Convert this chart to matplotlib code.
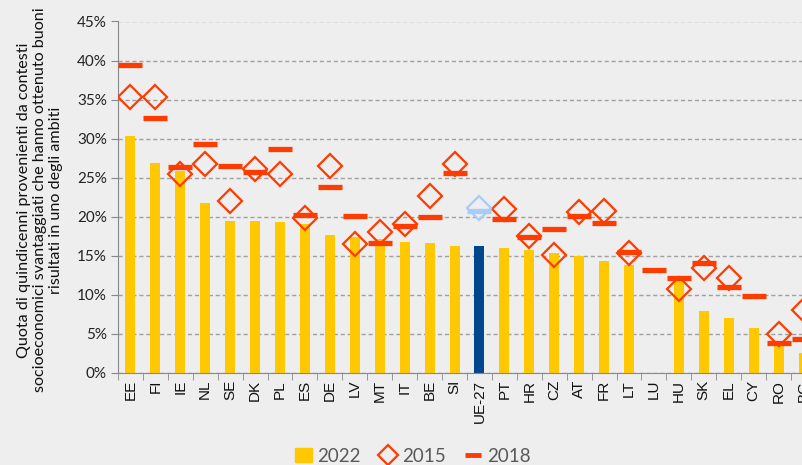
import numpy as np
import matplotlib.pyplot as plt
from matplotlib.patches import Patch
from matplotlib.lines import Line2D

countries = ['EE', 'FI', 'IE', 'NL', 'SE', 'DK', 'PL', 'ES', 'DE', 'LV', 'MT', 'IT', 'BE', 'SI',
             'UE-27', 'PT', 'HR', 'CZ', 'AT', 'FR', 'LT', 'LU', 'HU', 'SK', 'EL', 'CY', 'RO', 'BG']
v2022 = [30.3, 26.9, 25.8, 21.7, 19.5, 19.4, 19.3, 19.1, 17.7, 17.4, 17.1, 16.8, 16.6, 16.3,
         16.3, 16.0, 15.8, 15.3, 15.0, 14.4, 13.8, np.nan, 12.0, 7.9, 7.1, 5.7, 4.0, 2.5]
v2015 = [35.3, 35.3, 25.5, 26.8, 22.0, 26.1, 25.5, 19.8, 26.5, 16.5, 18.1, 19.1, 22.7, 26.8,
         21.1, 21.0, 17.6, 15.1, 20.6, 20.8, 15.3, np.nan, 10.8, 13.4, 12.2, np.nan, 5.0, 8.1]
v2018 = [39.4, 32.6, 26.4, 29.3, 26.5, 25.7, 28.7, 20.2, 23.8, 20.1, 16.6, 18.8, 20.0, 25.6,
         20.7, 19.7, 17.4, 18.4, 20.1, 19.2, 15.5, 13.2, 12.1, 14.1, 11.0, 9.9, 3.8, 4.3]

bg = '#EEEEEE'
yellow = '#FFC800'
red = '#FF3C00'
eu_dark = '#00468C'
eu_light = '#A6CDF7'

x = np.arange(len(countries))
eu = np.array([c == 'UE-27' for c in countries])
a22 = np.array(v2022) / 100
a15 = np.array(v2015) / 100
a18 = np.array(v2018) / 100

fig = plt.figure(figsize=(8.03, 4.65), dpi=100, facecolor=bg)
ax = fig.add_axes([118/803, 1 - 373/465, 698/803, 351.5/465], facecolor=bg)

bar_colors = [eu_dark if e else yellow for e in eu]
ax.bar(x, np.nan_to_num(a22), width=0.4, color=bar_colors, zorder=2)

ax.plot(x[~eu], a15[~eu], ls='none', marker='D', ms=12.5, mfc='none', mec=red, mew=1.6, zorder=3)
ax.plot(x[eu], a15[eu], ls='none', marker='D', ms=12.5, mfc='none', mec=eu_light, mew=1.6, zorder=3)
ax.plot(x[~eu], a18[~eu], ls='none', marker='_', ms=17.5, mec=red, mew=3.8, zorder=4)
ax.plot(x[eu], a18[eu], ls='none', marker='_', ms=17.5, mec=eu_light, mew=3.8, zorder=4)

ax.set_xlim(-0.5, len(countries) - 0.5)
ax.set_ylim(0, 0.45)
ax.set_yticks(np.arange(0, 0.451, 0.05))
ax.set_yticklabels([f'{int(round(t*100))}%' for t in np.arange(0, 0.451, 0.05)],
                   fontsize=11, family='Lato', color='#222222')
ax.set_xticks(x)
ax.set_xticklabels(countries, rotation=90, fontsize=11, family='Liberation Sans', color='#111111')
ax.set_xticks(np.arange(-0.5, len(countries), 1), minor=True)
ax.tick_params(axis='x', which='major', length=0, pad=5)
ax.tick_params(axis='x', which='minor', length=5, color='#888888')
ax.tick_params(axis='y', length=5, color='#888888', pad=3)

ax.yaxis.grid(True, ls=(0, (3, 2)), color='#A0A0A0', lw=1, zorder=1)
ax.set_axisbelow(True)
for s in ['top', 'right']:
    ax.spines[s].set_visible(False)
for s in ['left', 'bottom']:
    ax.spines[s].set_color('#888888')

ax.set_ylabel('Quota di quindicenni provenienti da contesti\n'
              'socioeconomici svantaggiati che hanno ottenuto buoni\n'
              'risultati in uno degli ambiti',
              fontsize=11.6, family='Lato', color='#111111', linespacing=1.2)
ax.yaxis.set_label_coords((63 - 118) / 698, 0.492)

handles = [Patch(color=yellow),
           Line2D([], [], ls='none', marker='D', ms=10, mfc='none', mec=red, mew=1.6),
           Line2D([], [], ls='none', marker='_', ms=12, mec=red, mew=3.5)]
fig.legend(handles, ['2022', '2015', '2018'], loc='center', bbox_to_anchor=(413/803, 1 - 456/465),
           ncol=3, frameon=False, handlelength=0.9, handletextpad=0.3, columnspacing=1.0,
           prop={'family': 'Lato', 'size': 13.5}, labelcolor='#595959')

fig.savefig('out.png', dpi=100, facecolor=bg)
